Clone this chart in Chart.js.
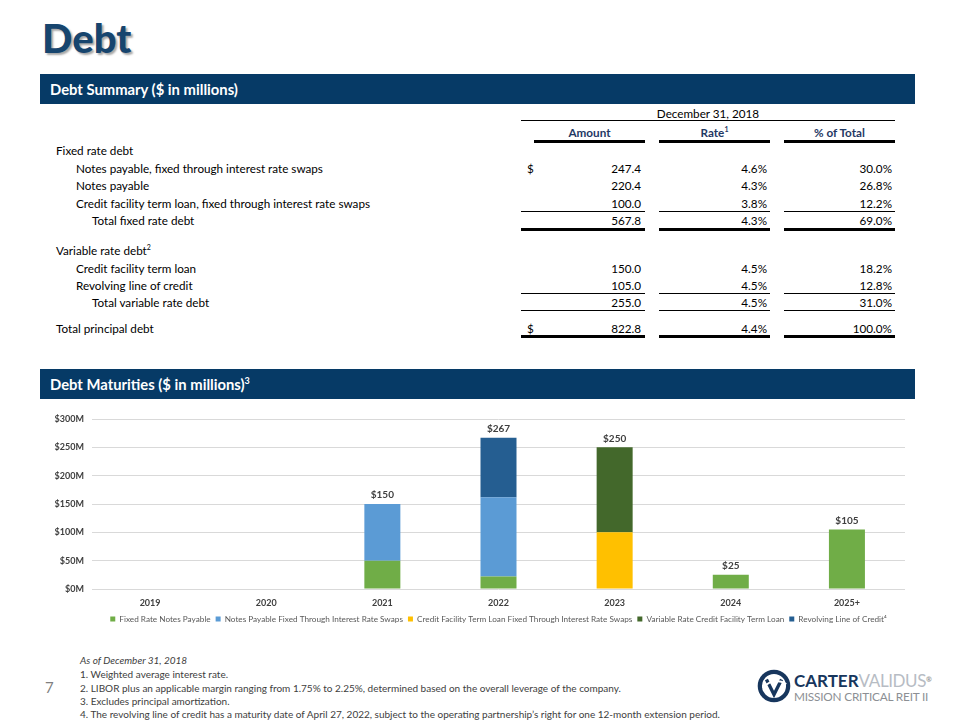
<!DOCTYPE html>
<html>
<head>
<meta charset="utf-8">
<script src="https://cdn.jsdelivr.net/npm/chart.js@4.4.1/dist/chart.umd.min.js"></script>
<style>
  body { margin: 0; background: #fff; font-family: Lato, "Open Sans", sans-serif; }
  #page { position: relative; width: 960px; height: 720px; overflow: hidden; }
  .a { position: absolute; white-space: nowrap; }
  .t { font-size: 11.7px; line-height: 14px; color: #000; }
  .r { text-align: right; }
  .hl { position: absolute; background: #000; }
  .band { position: absolute; left: 40px; width: 875px; height: 30px; background: #063a66; color: #fff;
          font-weight: bold; font-size: 14.8px; line-height: 30px; padding-left: 10px; box-sizing: border-box; }
  .hd { font-weight: bold; color: #1f3864; }
  .fn { font-size: 10px; line-height: 12px; color: #404040; }
  .sup { position: relative; top: -5px; font-size: 7px; line-height: 0; }
</style>
</head>
<body>
<div id="page">
  <div class="a" style="left:42px;top:14px;font-size:40px;font-weight:900;color:#17456e;text-shadow:2px 2px 2px rgba(0,0,0,0.35);">Debt</div>

  <div class="band" style="top:74px;">Debt Summary ($ in millions)</div>

  <!-- summary table -->
  <div class="a t" style="left:521px;width:374px;top:106px;text-align:center;">December 31, 2018</div>
  <div class="hl" style="left:521px;width:374px;top:120px;height:1px;"></div>
  <div class="a t hd" style="left:534px;width:111px;top:125px;text-align:center;">Amount</div>
  <div class="a t hd" style="left:659px;width:111px;top:125px;text-align:center;">Rate<span class="sup">1</span></div>
  <div class="a t hd" style="left:784px;width:111px;top:125px;text-align:center;">% of Total</div>
  <div class="hl" style="left:534px;width:111px;top:140px;height:3px;"></div>
  <div class="hl" style="left:659px;width:111px;top:140px;height:3px;"></div>
  <div class="hl" style="left:784px;width:111px;top:140px;height:3px;"></div>

  <div id="rows"></div>

  <div class="band" style="top:369px;">Debt Maturities ($ in millions)<span class="sup" style="font-size:9px;top:-6px;">3</span></div>

  <div class="a" style="left:40px;top:405px;width:865px;height:228px;"><canvas id="c"></canvas></div>

  <!-- footnotes -->
  <div class="a fn" style="left:80px;top:654px;font-style:italic;">As of December 31, 2018</div>
  <div class="a fn" style="left:80px;top:668px;">1. Weighted average interest rate.</div>
  <div class="a fn" style="left:80px;top:682px;">2. LIBOR plus an applicable margin ranging from 1.75% to 2.25%, determined based on the overall leverage of the company.</div>
  <div class="a fn" style="left:80px;top:695px;">3. Excludes principal amortization.</div>
  <div class="a fn" style="left:80px;top:708px;">4. The revolving line of credit has a maturity date of April 27, 2022, subject to the operating partnership’s right for one 12-month extension period.</div>
  <div class="a" style="left:45px;top:678px;font-size:15px;color:#7f7f7f;">7</div>

  <!-- logo -->
  <svg class="a" style="left:757px;top:669px;" width="34" height="34" viewBox="0 0 36 36">
    <circle cx="18" cy="18" r="15" fill="none" stroke="#17365d" stroke-width="4.5"/>
    <path d="M10 11 L18 27 L26 11" fill="none" stroke="#17365d" stroke-width="3.5"/>
    <path d="M6 20 Q18 8 31 16" fill="none" stroke="#fff" stroke-width="2"/>
  </svg>
  <div class="a" style="left:794px;top:670px;font-size:17px;font-weight:bold;color:#17365d;">CARTER<span style="color:#b7bcc4;font-weight:normal;letter-spacing:-0.4px;">VALIDUS</span><span class="sup" style="color:#999;">®</span></div>
  <div class="a" style="left:794px;top:689px;font-size:11.8px;color:#8c8f94;letter-spacing:-0.2px;">MISSION CRITICAL REIT II</div>
</div>

<script>
// ---- summary table text
var rowLabels = ["Fixed rate debt", "Notes payable, fixed through interest rate swaps", "Notes payable",
  "Credit facility term loan, fixed through interest rate swaps", "Total fixed rate debt",
  "Variable rate debt<span class='sup'>2</span>", "Credit facility term loan", "Revolving line of credit",
  "Total variable rate debt", "Total principal debt"];
var rowAmount = ["", "247.4", "220.4", "100.0", "567.8", "", "150.0", "105.0", "255.0", "822.8"];
var rowRate = ["", "4.6%", "4.3%", "3.8%", "4.3%", "", "4.5%", "4.5%", "4.5%", "4.4%"];
var rowPct = ["", "30.0%", "26.8%", "12.2%", "69.0%", "", "18.2%", "12.8%", "31.0%", "100.0%"];
var rowDollar = [false, true, false, false, false, false, false, false, false, true];

// ---- maturities chart data
var years = ["2019", "2020", "2021", "2022", "2023", "2024", "2025+"];
var fixedNotes = [0, 0, 50, 22, 0, 25, 105];
var swapNotes = [0, 0, 100, 140, 0, 0, 0];
var swapTermLoan = [0, 0, 0, 0, 100, 0, 0];
var variableTermLoan = [0, 0, 0, 0, 150, 0, 0];
var revolver = [0, 0, 0, 105, 0, 0, 0];
var totalLabels = ["", "", "$150", "$267", "$250", "$25", "$105"];
var yTicks = [0, 50, 100, 150, 200, 250, 300];

var rowY = [150, 168, 185, 203, 220, 250, 268, 285, 302, 328];
var rowIndent = [56, 76, 76, 76, 92, 56, 76, 76, 92, 56];
var html = "";
rowLabels.forEach(function(lab, i){
  var top = rowY[i] - 7;
  html += '<div class="a t" style="left:' + rowIndent[i] + 'px;top:' + top + 'px;">' + lab + '</div>';
  if (rowDollar[i]) html += '<div class="a t" style="left:527px;top:' + top + 'px;">$</div>';
  if (rowAmount[i]) html += '<div class="a t r" style="left:560px;width:81px;top:' + top + 'px;">' + rowAmount[i] + '</div>';
  if (rowRate[i]) html += '<div class="a t r" style="left:686px;width:81px;top:' + top + 'px;">' + rowRate[i] + '</div>';
  if (rowPct[i]) html += '<div class="a t r" style="left:811px;width:81px;top:' + top + 'px;">' + rowPct[i] + '</div>';
});
function lines(top, h, first){
  var s = "";
  [[first, 645], [659, 770], [784, 895]].forEach(function(c){
    s += '<div class="hl" style="left:' + c[0] + 'px;width:' + (c[1] - c[0]) + 'px;top:' + top + 'px;height:' + h + 'px;"></div>';
  });
  return s;
}
html += lines(211, 1, 521) + lines(228, 3, 521) + lines(293, 1, 521) + lines(310, 1, 521) + lines(335, 3, 521);
document.getElementById("rows").innerHTML = html;

var totalsPlugin = {
  id: "totals",
  afterDatasetsDraw: function(chart){
    var ctx = chart.ctx, x = chart.scales.x, y = chart.scales.y;
    ctx.save();
    ctx.font = "bold 10px Lato, sans-serif";
    ctx.fillStyle = "#404040";
    ctx.textAlign = "center";
    ctx.textBaseline = "bottom";
    years.forEach(function(yr, i){
      if (!totalLabels[i]) return;
      var sum = fixedNotes[i] + swapNotes[i] + swapTermLoan[i] + variableTermLoan[i] + revolver[i];
      ctx.fillText(totalLabels[i], x.getPixelForValue(i), y.getPixelForValue(sum) - 4);
    });
    ctx.restore();
  }
};

function ds(label, data, color){
  return { label: label, data: data, backgroundColor: color, borderWidth: 0,
           barPercentage: 0.62, categoryPercentage: 0.5 };
}

new Chart(document.getElementById("c"), {
  type: "bar",
  data: {
    labels: years,
    datasets: [
      ds("Fixed Rate Notes Payable", fixedNotes, "#70ad47"),
      ds("Notes Payable Fixed Through Interest Rate Swaps", swapNotes, "#5b9bd5"),
      ds("Credit Facility Term Loan Fixed Through Interest Rate Swaps", swapTermLoan, "#ffc000"),
      ds("Variable Rate Credit Facility Term Loan", variableTermLoan, "#43682b"),
      ds("Revolving Line of Credit\u2074", revolver, "#255e91")
    ]
  },
  options: {
    responsive: true,
    maintainAspectRatio: false,
    animation: false,
    layout: { padding: { top: 14, right: 0, left: 0, bottom: 0 } },
    plugins: {
      tooltip: { enabled: false },
      legend: {
        position: "bottom",
        fullSize: false,
        labels: { boxWidth: 5, boxHeight: 5, padding: 5, color: "#595959",
                  font: { family: "Lato, sans-serif", size: 8.2 } }
      }
    },
    scales: {
      x: {
        stacked: true,
        grid: { display: false },
        border: { display: false },
        ticks: { color: "#404040", font: { family: "Lato, sans-serif", size: 9, weight: "bold" }, padding: 1 }
      },
      y: {
        stacked: true,
        min: 0, max: 300,
        afterFit: function(s){ s.width = 52; },
        afterBuildTicks: function(s){ s.ticks = yTicks.map(function(v){ return { value: v }; }); },
        grid: { color: "#d9d9d9", drawTicks: false },
        border: { display: false },
        ticks: { color: "#404040", padding: 8, font: { family: "Lato, sans-serif", size: 9, weight: "bold" },
                 callback: function(v){ return "$" + v + "M"; } }
      }
    }
  },
  plugins: [totalsPlugin]
});
</script>
</body>
</html>
